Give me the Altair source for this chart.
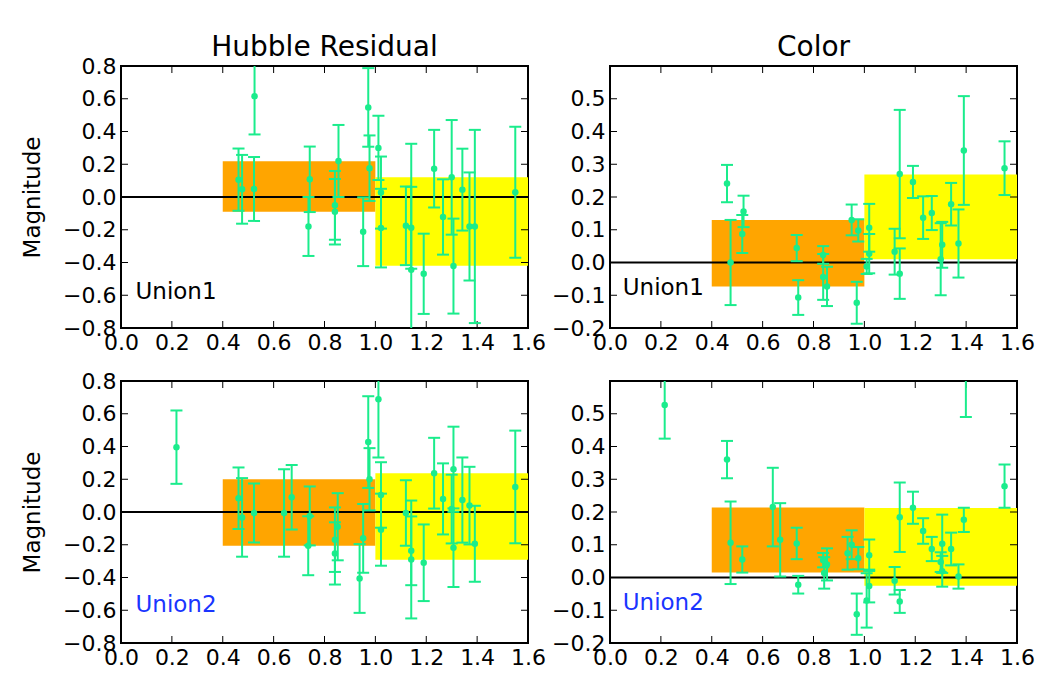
import altair as alt
import pandas as pd

# ---------------- data ----------------
x_tick_values = [0.0, 0.2, 0.4, 0.6, 0.8, 1.0, 1.2, 1.4, 1.6]
hr_tick_values = [-0.8, -0.6, -0.4, -0.2, 0.0, 0.2, 0.4, 0.6, 0.8]
col_tick_values = [-0.2, -0.1, 0.0, 0.1, 0.2, 0.3, 0.4, 0.5]

band_x_start = [0.4, 1.0]
band_x_end = [1.0, 1.6]
band_colors = ["#ffa500", "#ffff00"]

u1_hr_band_lo = [-0.090, -0.420]
u1_hr_band_hi = [0.218, 0.120]
u1_col_band_lo = [-0.073, 0.010]
u1_col_band_hi = [0.130, 0.269]
u2_hr_band_lo = [-0.206, -0.292]
u2_hr_band_hi = [0.200, 0.237]
u2_col_band_lo = [0.015, -0.025]
u2_col_band_hi = [0.214, 0.212]

u1_hr_x = [0.462, 0.476, 0.525, 0.523, 0.742, 0.737, 0.841, 0.841, 0.855, 0.952,
           0.972, 0.977, 1.012, 1.022, 1.022, 1.120, 1.141, 1.141, 1.190, 1.231,
           1.266, 1.300, 1.307, 1.342, 1.370, 1.391, 1.550]
u1_hr_y = [0.106, 0.047, 0.616, 0.049, 0.108, -0.180, -0.051, -0.090, 0.220, -0.212,
           0.547, 0.176, 0.300, 0.027, -0.190, -0.176, -0.188, -0.445, -0.469, 0.173,
           -0.122, 0.120, -0.422, 0.045, -0.180, -0.180, 0.029]
u1_hr_err = [0.19, 0.21, 0.234, 0.195, 0.20, 0.18, 0.21, 0.20, 0.22, 0.21,
             0.24, 0.20, 0.196, 0.22, 0.24, 0.24, 0.25, 0.77, 0.245, 0.237,
             0.23, 0.35, 0.29, 0.25, 0.33, 0.59, 0.40]

u1_col_x = [0.460, 0.474, 0.520, 0.525, 0.734, 0.740, 0.838, 0.838, 0.853, 0.950,
            0.976, 0.970, 1.009, 1.019, 1.019, 1.119, 1.139, 1.139, 1.191, 1.231,
            1.265, 1.300, 1.306, 1.341, 1.370, 1.391, 1.551]
u1_col_y = [0.241, 0.000, 0.087, 0.156, 0.044, -0.107, 0.023, -0.044, -0.073, 0.130,
            0.098, -0.123, -0.012, 0.027, 0.106, 0.033, 0.270, -0.034, 0.246, 0.137,
            0.151, 0.010, 0.054, 0.178, 0.058, 0.342, 0.288]
u1_col_err = [0.057, 0.13, 0.058, 0.048, 0.040, 0.053, 0.027, 0.07, 0.06, 0.047,
              0.034, 0.064, 0.023, 0.06, 0.073, 0.07, 0.196, 0.077, 0.049, 0.065,
              0.052, 0.11, 0.07, 0.065, 0.104, 0.166, 0.082]

u2_hr_x = [0.218, 0.462, 0.476, 0.523, 0.641, 0.671, 0.742, 0.736, 0.841, 0.841,
           0.852, 0.938, 0.952, 0.972, 0.977, 1.012, 1.022, 1.022, 1.120, 1.141,
           1.141, 1.190, 1.231, 1.266, 1.300, 1.307, 1.307, 1.342, 1.370, 1.391,
           1.550]
u2_hr_y = [0.396, 0.084, -0.033, -0.006, -0.006, 0.090, -0.024, -0.206, -0.169, -0.253,
           -0.090, -0.406, -0.161, 0.427, 0.200, 0.688, 0.104, -0.108, -0.006, -0.237,
           -0.290, -0.310, 0.237, 0.080, 0.018, 0.261, -0.218, 0.073, 0.039, -0.194,
           0.153]
u2_hr_err = [0.224, 0.188, 0.24, 0.18, 0.267, 0.197, 0.18, 0.18, 0.197, 0.19,
             0.205, 0.21, 0.21, 0.28, 0.19, 0.355, 0.2, 0.22, 0.2, 0.21,
             0.36, 0.234, 0.216, 0.217, 0.21, 0.26, 0.24, 0.26, 0.237, 0.232,
             0.344]

u2_col_x = [0.215, 0.460, 0.474, 0.520, 0.640, 0.669, 0.734, 0.740, 0.838, 0.842,
            0.853, 0.934, 0.950, 0.976, 0.970, 1.009, 1.019, 1.019, 1.119, 1.139,
            1.139, 1.191, 1.231, 1.265, 1.300, 1.306, 1.306, 1.341, 1.370, 1.391,
            1.399, 1.551]
u2_col_y = [0.527, 0.360, 0.106, 0.055, 0.215, 0.115, 0.104, -0.022, 0.053, 0.014,
            0.040, 0.074, 0.100, 0.059, -0.112, -0.070, 0.068, -0.026, -0.010, 0.184,
            -0.073, 0.213, 0.142, 0.087, 0.047, 0.103, 0.019, 0.087, 0.003, 0.176,
            0.620, 0.279]
u2_col_err = [0.103, 0.057, 0.126, 0.040, 0.120, 0.112, 0.048, 0.027, 0.022, 0.048,
              0.049, 0.050, 0.044, 0.034, 0.063, 0.083, 0.048, 0.050, 0.042, 0.106,
              0.035, 0.049, 0.039, 0.037, 0.030, 0.089, 0.047, 0.050, 0.037, 0.037,
              0.130, 0.066]

# ---------------- style ----------------
W, H = 407, 262
GREEN = "#1aec8c"
FONT = "DejaVu Sans"
TICK_LEN = 7


def panel(xs, ys, errs, band_lo, band_hi, ydom, yvals, label, label_color,
          label_xy, title=None, title_offset=4, ytitle=None):
    pts = pd.DataFrame({
        "x": xs, "y": ys,
        "lo": [a - e for a, e in zip(ys, errs)],
        "hi": [a + e for a, e in zip(ys, errs)],
    })
    bands = pd.DataFrame({"x0": band_x_start, "x1": band_x_end,
                          "lo": band_lo, "hi": band_hi, "c": band_colors})
    xsc = alt.Scale(domain=[0, 1.6], nice=False, zero=False)
    ysc = alt.Scale(domain=ydom, nice=False, zero=False)
    xaxis = alt.Axis(values=x_tick_values, format=".1f", ticks=False, domain=False,
                     grid=False, labelFlush=False, labelOverlap=False,
                     labelPadding=4)
    yaxis = alt.Axis(values=yvals, format=".1f", ticks=False, domain=False,
                     grid=False, labelFlush=False, labelOverlap=False,
                     labelPadding=5, titlePadding=18)
    ytit = ytitle if ytitle else ""

    def X(f):
        return alt.X(f, scale=xsc, axis=xaxis, title="")

    def Y(f):
        return alt.Y(f, scale=ysc, axis=yaxis, title=ytit)

    rects = alt.Chart(bands).mark_rect(clip=True).encode(
        x=X("x0:Q"), x2="x1:Q", y=Y("lo:Q"), y2="hi:Q",
        color=alt.Color("c:N", scale=None),
    )
    zero = alt.Chart(pd.DataFrame({"z": [0.0]})).mark_rule(
        color="black", strokeWidth=2).encode(y=Y("z:Q"))
    bars = alt.Chart(pts).mark_rule(color=GREEN, strokeWidth=2, clip=True).encode(
        x=X("x:Q"), y=Y("lo:Q"), y2="hi:Q")
    cap_lo = alt.Chart(pts).mark_tick(color=GREEN, orient="horizontal", size=12,
                                      thickness=2, opacity=1, clip=True).encode(
        x=X("x:Q"), y=Y("lo:Q"))
    cap_hi = alt.Chart(pts).mark_tick(color=GREEN, orient="horizontal", size=12,
                                      thickness=2, opacity=1, clip=True).encode(
        x=X("x:Q"), y=Y("hi:Q"))
    dots = alt.Chart(pts).mark_circle(color=GREEN, size=42, opacity=1,
                                      clip=True).encode(x=X("x:Q"), y=Y("y:Q"))

    xt = pd.DataFrame({"v": x_tick_values})
    yt = pd.DataFrame({"v": yvals})
    xt_bot = alt.Chart(xt).mark_rule(color="black", strokeWidth=1).encode(
        x=X("v:Q"), y=alt.value(H), y2=alt.value(H - TICK_LEN))
    xt_top = alt.Chart(xt).mark_rule(color="black", strokeWidth=1).encode(
        x=X("v:Q"), y=alt.value(0), y2=alt.value(TICK_LEN))
    yt_left = alt.Chart(yt).mark_rule(color="black", strokeWidth=1).encode(
        y=Y("v:Q"), x=alt.value(0), x2=alt.value(TICK_LEN))
    yt_right = alt.Chart(yt).mark_rule(color="black", strokeWidth=1).encode(
        y=Y("v:Q"), x=alt.value(W), x2=alt.value(W - TICK_LEN))

    lab = alt.Chart(pd.DataFrame({"x": [label_xy[0]], "y": [label_xy[1]],
                                  "t": [label]})).mark_text(
        align="left", baseline="alphabetic", fontSize=23, font=FONT,
        color=label_color).encode(x=X("x:Q"), y=Y("y:Q"), text="t:N")

    props = dict(width=W, height=H,
                 view=alt.ViewBackground(stroke="black", strokeWidth=2))
    if title:
        props["title"] = alt.TitleParams(title, fontSize=28, font=FONT,
                                         fontWeight="normal", color="black",
                                         anchor="middle", offset=title_offset)
    return alt.layer(rects, zero, xt_bot, xt_top, yt_left, yt_right, bars,
                     cap_lo, cap_hi, dots, lab).properties(**props)


p1 = panel(u1_hr_x, u1_hr_y, u1_hr_err, u1_hr_band_lo, u1_hr_band_hi,
           [-0.8, 0.8], hr_tick_values, "Union1", "black", (0.057, -0.62),
           title="Hubble Residual", title_offset=-7, ytitle="Magnitude")
p2 = panel(u1_col_x, u1_col_y, u1_col_err, u1_col_band_lo, u1_col_band_hi,
           [-0.2, 0.6], col_tick_values, "Union1", "black", (0.05, -0.10),
           title="Color", title_offset=4)
p3 = panel(u2_hr_x, u2_hr_y, u2_hr_err, u2_hr_band_lo, u2_hr_band_hi,
           [-0.8, 0.8], hr_tick_values, "Union2", "#1a35ff", (0.057, -0.61),
           ytitle="Magnitude")
p4 = panel(u2_col_x, u2_col_y, u2_col_err, u2_col_band_lo, u2_col_band_hi,
           [-0.2, 0.6], col_tick_values, "Union2", "#1a35ff", (0.05, -0.10))

chart = alt.concat(
    p1, p2, p3, p4,
    columns=2, spacing={"row": 53, "column": 82}, bounds="flush",
).properties(
    padding={"left": 12, "top": 24, "right": 0, "bottom": 0},
    background="white",
).configure_view(
    stroke="black", strokeWidth=2
).configure_axis(
    labelFont=FONT, labelFontSize=22, labelColor="black",
    titleFont=FONT, titleFontSize=23, titleFontWeight="normal", titleColor="black",
)

chart.save("out.html", embed_options={"renderer": "svg", "actions": False})
